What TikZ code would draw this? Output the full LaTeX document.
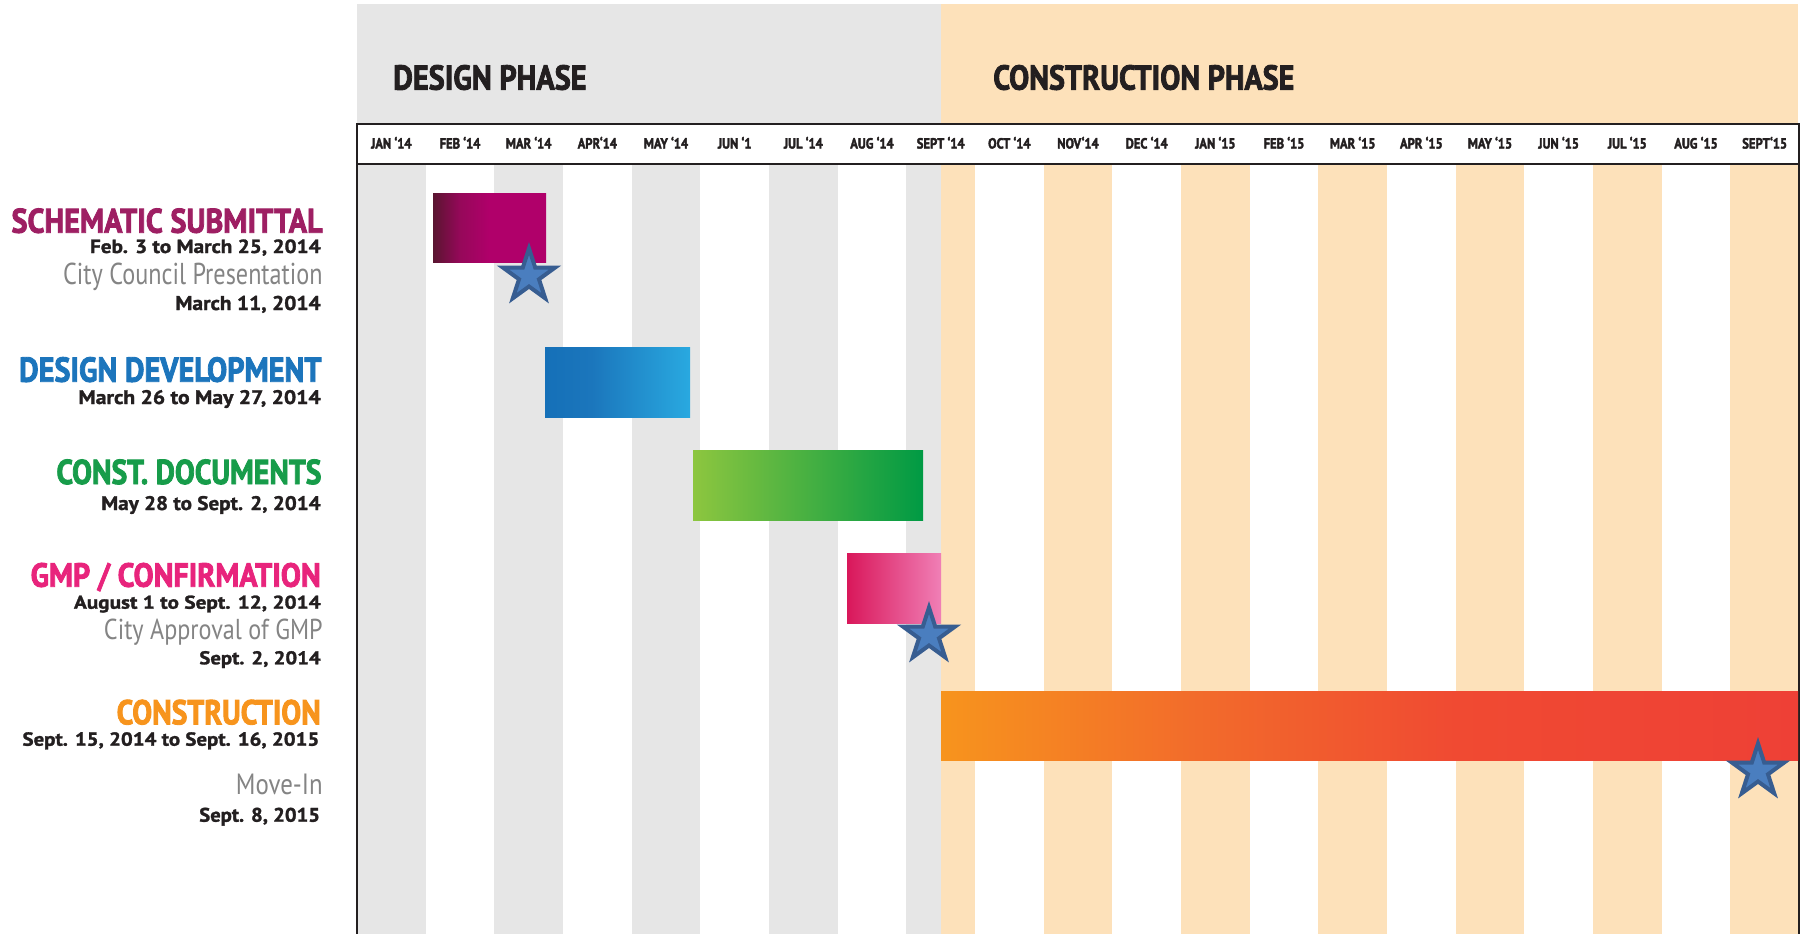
\documentclass[tikz,border=0pt]{standalone}
\usepackage{fontspec}
\setmainfont{PT Sans}
\newfontfamily\heavyfont{PT Sans}[BoldFeatures={FakeBold=2.6}]
\newfontfamily\datefont{PT Sans}[BoldFeatures={FakeBold=1.4}]
\usetikzlibrary{shapes.geometric}

% palette
\definecolor{ink}{HTML}{231F20}
\definecolor{stripegray}{HTML}{E6E6E6}
\definecolor{peach}{HTML}{FDE1BA}
\definecolor{softgray}{HTML}{848484}
\definecolor{schemtxt}{HTML}{9E1F63}
\definecolor{ddtxt}{HTML}{1C75BC}
\definecolor{cdtxt}{HTML}{179C4A}
\definecolor{gmptxt}{HTML}{E8247C}
\definecolor{contxt}{HTML}{F7941D}
\definecolor{starfill}{HTML}{4A7EBF}
\definecolor{staredge}{HTML}{375D91}
% bar gradient colours
\definecolor{schA}{HTML}{5A1530}
\definecolor{schB}{HTML}{96085A}
\definecolor{schC}{HTML}{B0006A}
\definecolor{ddA}{HTML}{1570B8}
\definecolor{ddB}{HTML}{1B76BC}
\definecolor{ddC}{HTML}{29A9E0}
\definecolor{cdA}{HTML}{8DC63F}
\definecolor{cdB}{HTML}{009A44}
\definecolor{gmpA}{HTML}{D9175A}
\definecolor{gmpB}{HTML}{F07FB6}
\definecolor{conA}{HTML}{F7941D}
\definecolor{conB}{HTML}{F26B2B}
\definecolor{conC}{HTML}{F04A32}
\definecolor{conD}{HTML}{EE4036}

\pgfdeclarehorizontalshading{schemshade}{100bp}{color(0bp)=(schA); color(25bp)=(schA); color(37bp)=(schB); color(50bp)=(schC); color(100bp)=(schC)}
\pgfdeclarehorizontalshading{ddshade}{100bp}{color(0bp)=(ddA); color(25bp)=(ddA); color(41bp)=(ddB); color(75bp)=(ddC); color(100bp)=(ddC)}
\pgfdeclarehorizontalshading{cdshade}{100bp}{color(0bp)=(cdA); color(25bp)=(cdA); color(75bp)=(cdB); color(100bp)=(cdB)}
\pgfdeclarehorizontalshading{gmpshade}{100bp}{color(0bp)=(gmpA); color(25bp)=(gmpA); color(75bp)=(gmpB); color(100bp)=(gmpB)}
\pgfdeclarehorizontalshading{conshade}{100bp}{color(0bp)=(conA); color(25bp)=(conA); color(40bp)=(conB); color(55bp)=(conC); color(75bp)=(conD); color(100bp)=(conD)}

% text fitted to a given width and height
\newcommand{\fitbox}[3]{\resizebox{#1pt}{#2pt}{#3}}
% month label in the header row
\newcommand{\monthtag}[1]{\scalebox{0.86}[1]{\resizebox{!}{11.7pt}{\heavyfont\bfseries #1}}}

\tikzset{
  bar/.style={shade, inner sep=0pt, outer sep=0pt, anchor=north west},
  milestone/.style={star, star points=5, star point ratio=2.618, minimum size=55pt,
                    inner sep=0pt, fill=starfill, draw=staredge, line width=4pt},
  lbl/.style={anchor=base east, inner sep=0pt, outer sep=0pt},
  ttl/.style={anchor=base west, inner sep=0pt, outer sep=0pt, text=ink},
  frame/.style={draw=ink, line width=2.5pt},
}

\begin{document}
\begin{tikzpicture}[x=1pt, y=-1pt]
\useasboundingbox[fill=white] (0,0) rectangle (1806,934);

% phase backgrounds above the header row
\fill[stripegray] (357,4) rectangle (941,124);
\fill[peach] (941,4) rectangle (1798,124);

% monthly stripes (month width 68.667); construction starts mid-September
\foreach \i in {0,2,4,6}{
  \fill[stripegray] ({357+\i*68.667},164) rectangle ({357+(\i+1)*68.667},934);
}
\fill[stripegray] ({357+8*68.667},164) rectangle (941,934);
\fill[peach] (941,164) rectangle ({357+9*68.667},934);
\foreach \i in {10,12,...,20}{
  \fill[peach] ({357+\i*68.667},164) rectangle ({357+(\i+1)*68.667},934);
}

% header row and side rules
\draw[frame, fill=white] (357,124) rectangle (1799,164);
\draw[frame] (357,164) -- (357,934);
\draw[frame] (1799,164) -- (1799,934);

\foreach \m [count=\i from 0] in {JAN ‘14, FEB ‘14, MAR ‘14, APR‘14, MAY ‘14, JUN ‘1, JUL ‘14, AUG ‘14, SEPT ‘14, OCT ‘14, NOV‘14, DEC ‘14, JAN ‘15, FEB ‘15, MAR ‘15, APR ‘15, MAY ‘15, JUN ‘15, JUL ‘15, AUG ‘15, SEPT‘15}{
  \node[anchor=base, inner sep=0pt, text=ink] (m\i) at ({357+(\i+0.5)*68.667},148.5) {\monthtag{\m}};
}

% phase titles
\node[ttl] (designphase) at (393.3,89.6) {\fitbox{193.3}{24.6}{\heavyfont\bfseries DESIGN PHASE}};
\node[ttl] (constphase) at (993.3,89.6) {\fitbox{301}{24.6}{\heavyfont\bfseries CONSTRUCTION PHASE}};

% bars
\node[bar, shading=schemshade, minimum width=113pt, minimum height=69pt] (schbar) at (433,193) {};
\node[bar, shading=ddshade, minimum width=145pt, minimum height=70pt] (ddbar) at (545,347) {};
\node[bar, shading=cdshade, minimum width=230pt, minimum height=70pt] (cdbar) at (693,450) {};
\node[bar, shading=gmpshade, minimum width=94pt, minimum height=70pt] (gmpbar) at (847,553) {};
\node[bar, shading=conshade, minimum width=857pt, minimum height=69pt] (conbar) at (941,691) {};

% milestones
\node[milestone] (star1) at (529,276) {};
\node[milestone] (star2) at (929,635) {};
\node[milestone] (star3) at (1758,771) {};

% task labels
\node[lbl, text=schemtxt] (l1) at (322.6,232.7) {\fitbox{311}{24.3}{\heavyfont\bfseries SCHEMATIC SUBMITTAL}};
\node[lbl, text=ink] (l2) at (320.7,253) {\fitbox{230.7}{13.6}{\datefont\bfseries Feb. 3 to March 25, 2014}};
\node[lbl, text=softgray] (l3) at (322.6,284.3) {\fitbox{259.5}{21.5}{City Council Presentation}};
\node[lbl, text=ink] (l4) at (320.7,310) {\fitbox{145.4}{14.2}{\datefont\bfseries March 11, 2014}};

\node[lbl, text=ddtxt] (l5) at (321.5,381.7) {\fitbox{302.3}{24.6}{\heavyfont\bfseries DESIGN DEVELOPMENT}};
\node[lbl, text=ink] (l6) at (320.7,404) {\fitbox{242.2}{14}{\datefont\bfseries March 26 to May 27, 2014}};

\node[lbl, text=cdtxt] (l7) at (321.5,484) {\fitbox{265}{24.6}{\heavyfont\bfseries CONST. DOCUMENTS}};
\node[lbl, text=ink] (l8) at (320.7,510) {\fitbox{219.3}{14}{\datefont\bfseries May 28 to Sept. 2, 2014}};

\node[lbl, text=gmptxt] (l9) at (320.7,586.7) {\fitbox{290}{23.8}{\heavyfont\bfseries GMP / CONFIRMATION}};
\node[lbl, text=ink] (l10) at (320.7,608.7) {\fitbox{246.7}{13.2}{\datefont\bfseries August 1 to Sept. 12, 2014}};
\node[lbl, text=softgray] (l11) at (322.7,639) {\fitbox{218.7}{20.5}{City Approval of GMP}};
\node[lbl, text=ink] (l12) at (320.7,664.3) {\fitbox{121.3}{13.2}{\datefont\bfseries Sept. 2, 2014}};

\node[lbl, text=contxt] (l13) at (320.7,724.3) {\fitbox{204}{24.6}{\heavyfont\bfseries CONSTRUCTION}};
\node[lbl, text=ink] (l14) at (319.3,745.7) {\fitbox{296.7}{13.5}{\datefont\bfseries Sept. 15, 2014 to Sept. 16, 2015}};
\node[lbl, text=softgray] (l15) at (322.7,794) {\fitbox{86.7}{20.5}{Move-In}};
\node[lbl, text=ink] (l16) at (320,821.7) {\fitbox{120.7}{14}{\datefont\bfseries Sept. 8, 2015}};
\end{tikzpicture}
\end{document}
